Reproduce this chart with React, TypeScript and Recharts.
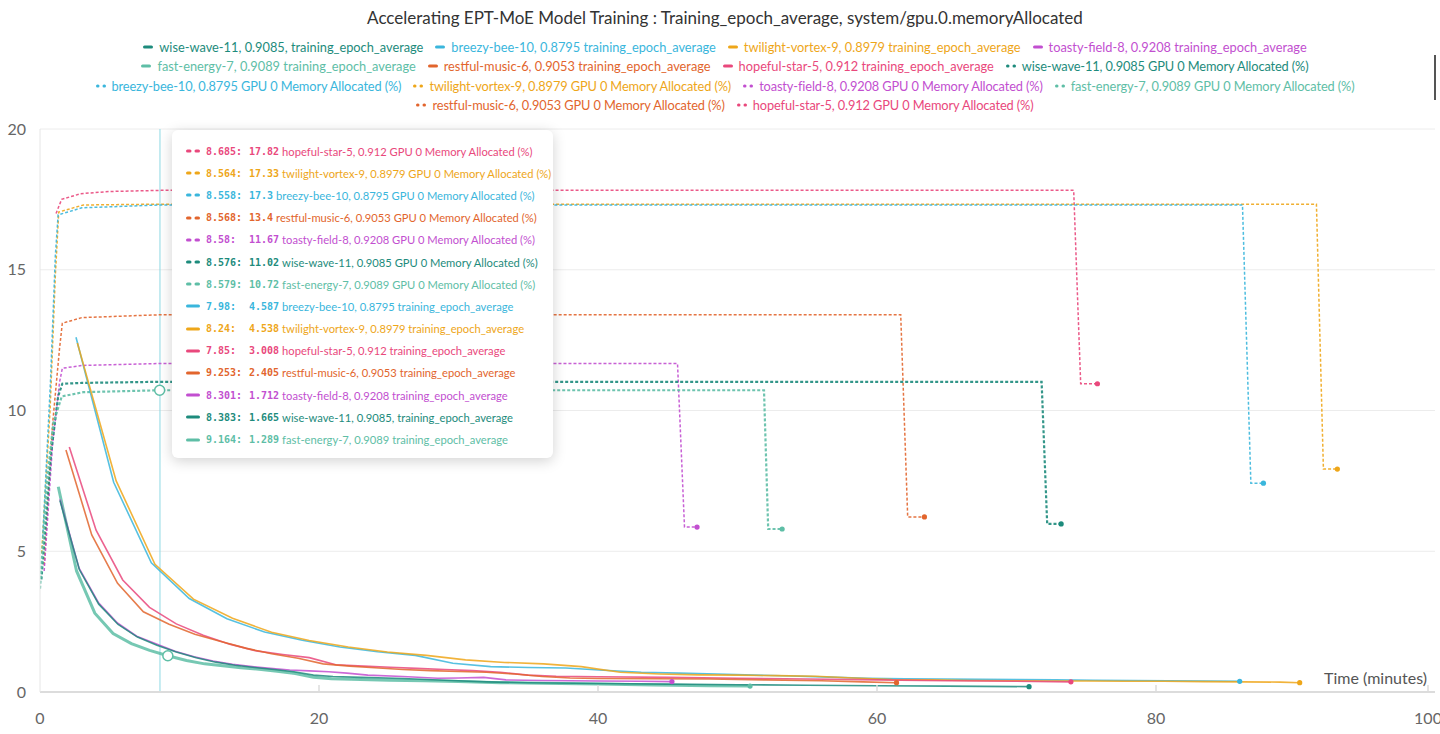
import React from 'react';
import {
  LineChart,
  Line,
  XAxis,
  YAxis,
  CartesianGrid,
  ReferenceLine,
  ReferenceDot,
} from 'recharts';

// [time in minutes, value] pairs
const wiseTrain = [
  [1.43, 6.8], [2.82, 4.35], [4.21, 3.12], [5.6, 2.4], [6.99, 1.95], [8.383, 1.665],
  [9.77, 1.42], [11.2, 1.22], [12.6, 1.06], [14, 0.95], [15.4, 0.87], [16.8, 0.8],
  [18.2, 0.72], [19.6, 0.6], [21, 0.55], [23, 0.52], [26, 0.48], [29, 0.42], [32, 0.36],
  [35, 0.33], [40, 0.3], [45, 0.28], [50, 0.26], [55, 0.24], [60, 0.22], [65, 0.21], [70.9, 0.19],
];
const breezyTrain = [
  [2.58, 12.6], [5.28, 7.45], [7.98, 4.587], [10.7, 3.32], [13.4, 2.6], [16.1, 2.13],
  [18.8, 1.84], [21.5, 1.6], [24.2, 1.43], [26.9, 1.3], [29.6, 1.02], [32.3, 0.9],
  [35, 0.87], [37.7, 0.85], [40.4, 0.77], [43.1, 0.7], [45.8, 0.67], [48.5, 0.64],
  [51.2, 0.6], [53.9, 0.57], [56.6, 0.53], [59.3, 0.49], [62, 0.47], [64.7, 0.46],
  [67.4, 0.45], [70.1, 0.44], [72.8, 0.43], [75.5, 0.42], [78.2, 0.41], [80.9, 0.4],
  [83.6, 0.39], [86.0, 0.38],
];
const twilightTrain = [
  [2.68, 12.4], [5.46, 7.5], [8.24, 4.538], [11.0, 3.3], [13.8, 2.62], [16.6, 2.12],
  [19.3, 1.83], [22.1, 1.6], [24.9, 1.42], [27.7, 1.3], [30.5, 1.14], [33.3, 1.05],
  [36.1, 1.0], [38.8, 0.9], [41.6, 0.7], [44.4, 0.64], [47.2, 0.61], [50, 0.6],
  [52.8, 0.58], [55.6, 0.56], [58.3, 0.5], [61.1, 0.44], [63.9, 0.43], [66.7, 0.41],
  [69.5, 0.4], [72.3, 0.39], [75, 0.39], [77.8, 0.38], [80.6, 0.38], [83.4, 0.37],
  [86.2, 0.36], [88.9, 0.35], [90.3, 0.33],
];
const toastyTrain = [
  [1.43, 6.85], [2.8, 4.4], [4.18, 3.18], [5.55, 2.45], [6.93, 1.98], [8.301, 1.712],
  [9.68, 1.45], [11.05, 1.25], [12.4, 1.1], [13.8, 0.98], [15.2, 0.9], [16.5, 0.84],
  [17.9, 0.78], [19.3, 0.75], [20.7, 0.72], [22, 0.67], [23.5, 0.6], [26, 0.55],
  [28.5, 0.49], [30, 0.5], [31.8, 0.52], [33.4, 0.43], [36, 0.41], [40, 0.39],
  [43, 0.38], [45.3, 0.37],
];
const fastTrain = [
  [1.31, 7.29], [2.62, 4.3], [3.93, 2.8], [5.24, 2.08], [6.55, 1.72], [7.86, 1.48],
  [9.164, 1.289], [10.5, 1.12], [11.8, 1.0], [13.1, 0.93], [14.4, 0.86], [15.7, 0.81],
  [17, 0.74], [18.3, 0.66], [19.6, 0.52], [20.9, 0.47], [22.3, 0.45], [25, 0.42],
  [27.5, 0.4], [30, 0.37], [33, 0.33], [36, 0.31], [40, 0.28], [44, 0.25], [48, 0.22],
  [50.9, 0.21],
];
const restfulTrain = [
  [1.86, 8.6], [3.71, 5.58], [5.56, 3.86], [7.41, 2.85], [9.253, 2.405], [11.1, 2.05],
  [12.9, 1.8], [14.8, 1.55], [16.6, 1.36], [18.5, 1.2], [20.3, 1.0], [22.2, 0.92],
  [24, 0.86], [26, 0.8], [28, 0.76], [30, 0.73], [32, 0.7], [34, 0.64], [36, 0.55],
  [38, 0.5], [40, 0.48], [44, 0.47], [48, 0.46], [52, 0.43], [56, 0.4], [59, 0.36],
  [61.4, 0.33],
];
const hopefulTrain = [
  [2.1, 8.7], [4.02, 5.75], [5.93, 3.98], [7.85, 3.008], [9.77, 2.42], [11.7, 2.02],
  [13.6, 1.7], [15.5, 1.46], [17.4, 1.33], [19.3, 1.22], [21.2, 0.97], [23.2, 0.92],
  [25.1, 0.88], [27, 0.84], [29, 0.8], [31, 0.76], [33, 0.7], [35, 0.6], [37, 0.56],
  [40, 0.54], [45, 0.52], [50, 0.49], [55, 0.46], [60, 0.43], [65, 0.4], [70, 0.38],
  [73.9, 0.36],
];

const hopefulMem = [[1.15, 17.0], [1.55, 17.5], [2.9, 17.7], [5.0, 17.78], [8.685, 17.82], [74.1, 17.82], [74.6, 10.95], [75.8, 10.95]];
const twilightMem = [[0.12, 4.93], [0.72, 10.0], [1.1, 14.8], [1.34, 17.05], [3.1, 17.3], [8.564, 17.33], [91.5, 17.33], [92.0, 7.92], [93.0, 7.92]];
const breezyMem = [[0.2, 5.5], [0.75, 11.0], [1.1, 15.5], [1.3, 16.95], [3.0, 17.2], [8.558, 17.3], [86.2, 17.3], [86.8, 7.42], [87.7, 7.42]];
const restfulMem = [[0.3, 4.5], [0.9, 9.5], [1.4, 12.2], [1.6, 13.1], [3.0, 13.3], [8.568, 13.4], [61.7, 13.4], [62.2, 6.22], [63.4, 6.22]];
const toastyMem = [[0.3, 4.3], [0.9, 8.8], [1.4, 11.0], [1.6, 11.5], [3.0, 11.6], [8.58, 11.67], [45.7, 11.67], [46.2, 5.86], [47.1, 5.86]];
const wiseMem = [[0.1, 4.0], [0.8, 8.5], [1.3, 10.5], [1.6, 10.95], [3.0, 10.98], [8.576, 11.02], [71.8, 11.02], [72.2, 5.97], [73.2, 5.97]];
const fastMem = [[0, 3.67], [0.48, 7.4], [0.96, 9.56], [1.56, 10.5], [3.1, 10.65], [8.579, 10.72], [51.9, 10.72], [52.2, 5.79], [53.2, 5.79]];

const xTicks = [0, 20, 40, 60, 80, 100];
const yTicks = [0, 5, 10, 15, 20];
const hoverTime = 8.6;

const title = 'Accelerating EPT-MoE Model Training : Training_epoch_average, system/gpu.0.memoryAllocated';

const runColors: Record<string, string> = {
  wise: '#1d8b7c',
  breezy: '#3ab6dc',
  twilight: '#eea619',
  toasty: '#c24fd0',
  fast: '#5ebea6',
  restful: '#e2652d',
  hopeful: '#e9487c',
};

type Series = { key: string; run: string; mem: boolean; label: string; data: number[][] };

const series: Series[] = [
  { key: 'hopefulMem', run: 'hopeful', mem: true, label: 'hopeful-star-5, 0.912 GPU 0 Memory Allocated (%)', data: hopefulMem },
  { key: 'twilightMem', run: 'twilight', mem: true, label: 'twilight-vortex-9, 0.8979 GPU 0 Memory Allocated (%)', data: twilightMem },
  { key: 'breezyMem', run: 'breezy', mem: true, label: 'breezy-bee-10, 0.8795 GPU 0 Memory Allocated (%)', data: breezyMem },
  { key: 'restfulMem', run: 'restful', mem: true, label: 'restful-music-6, 0.9053 GPU 0 Memory Allocated (%)', data: restfulMem },
  { key: 'toastyMem', run: 'toasty', mem: true, label: 'toasty-field-8, 0.9208 GPU 0 Memory Allocated (%)', data: toastyMem },
  { key: 'wiseMem', run: 'wise', mem: true, label: 'wise-wave-11, 0.9085 GPU 0 Memory Allocated (%)', data: wiseMem },
  { key: 'fastMem', run: 'fast', mem: true, label: 'fast-energy-7, 0.9089 GPU 0 Memory Allocated (%)', data: fastMem },
  { key: 'fastTrain', run: 'fast', mem: false, label: 'fast-energy-7, 0.9089 training_epoch_average', data: fastTrain },
  { key: 'breezyTrain', run: 'breezy', mem: false, label: 'breezy-bee-10, 0.8795 training_epoch_average', data: breezyTrain },
  { key: 'twilightTrain', run: 'twilight', mem: false, label: 'twilight-vortex-9, 0.8979 training_epoch_average', data: twilightTrain },
  { key: 'hopefulTrain', run: 'hopeful', mem: false, label: 'hopeful-star-5, 0.912 training_epoch_average', data: hopefulTrain },
  { key: 'restfulTrain', run: 'restful', mem: false, label: 'restful-music-6, 0.9053 training_epoch_average', data: restfulTrain },
  { key: 'toastyTrain', run: 'toasty', mem: false, label: 'toasty-field-8, 0.9208 training_epoch_average', data: toastyTrain },
  { key: 'wiseTrain', run: 'wise', mem: false, label: 'wise-wave-11, 0.9085, training_epoch_average', data: wiseTrain },
];

const legendRows = [
  ['wiseTrain', 'breezyTrain', 'twilightTrain', 'toastyTrain'],
  ['fastTrain', 'restfulTrain', 'hopefulTrain', 'wiseMem'],
  ['breezyMem', 'twilightMem', 'toastyMem', 'fastMem'],
  ['restfulMem', 'hopefulMem'],
];

// hover readout: [series, time, value]
const tooltipRows: [string, string, string][] = [
  ['hopefulMem', '8.685', '17.82'],
  ['twilightMem', '8.564', '17.33'],
  ['breezyMem', '8.558', '17.3'],
  ['restfulMem', '8.568', '13.4'],
  ['toastyMem', '8.58', '11.67'],
  ['wiseMem', '8.576', '11.02'],
  ['fastMem', '8.579', '10.72'],
  ['breezyTrain', '7.98', '4.587'],
  ['twilightTrain', '8.24', '4.538'],
  ['hopefulTrain', '7.85', '3.008'],
  ['restfulTrain', '9.253', '2.405'],
  ['toastyTrain', '8.301', '1.712'],
  ['wiseTrain', '8.383', '1.665'],
  ['fastTrain', '9.164', '1.289'],
];

const FONT = 'Lato, "Noto Sans", sans-serif';
const MONO = '"DejaVu Sans Mono", monospace';
const byKey = (k: string) => series.find((s) => s.key === k)!;

const Swatch = ({ color, dashed, w }: { color: string; dashed: boolean; w: number }) => (
  <svg width={w} height={4} style={{ marginRight: 6, flexShrink: 0 }}>
    {dashed ? (
      <>
        <rect x={0} y={0.5} width={w / 2 - 1.5} height={3} rx={1.5} fill={color} />
        <rect x={w / 2 + 1.5} y={0.5} width={w / 2 - 1.5} height={3} rx={1.5} fill={color} />
      </>
    ) : (
      <rect x={0} y={0.5} width={w} height={3} rx={1.5} fill={color} />
    )}
  </svg>
);

const XTick = (props: any) => {
  const { x, y, payload } = props;
  return (
    <g>
      {payload.value > 0 && <line x1={x} x2={x} y1={y - 7} y2={y} stroke="#dcdcdc" strokeWidth={1.5} />}
      <text x={x} y={y + 32} textAnchor="middle" fill="#666" fontSize={16} fontFamily={FONT}>
        {payload.value}
      </text>
    </g>
  );
};

const endDot = (color: string, n: number) => (p: any) =>
  p.index === n - 1 ? (
    <circle key={`d${p.index}`} cx={p.cx} cy={p.cy} r={2.6} fill={color} />
  ) : (
    <g key={`d${p.index}`} />
  );

export default function App() {
  return (
    <div style={{ position: 'absolute', left: 0, top: 0, width: 1440, height: 734, overflow: 'hidden', background: '#fff', fontFamily: FONT }}>
      <div style={{ position: 'absolute', left: 10, width: 1430, top: 7, textAlign: 'center', fontSize: 17, color: '#333', lineHeight: '22px' }}>
        {title}
      </div>
      <div style={{ position: 'absolute', left: 10, width: 1430, top: 37 }}>
        {legendRows.map((row, i) => (
          <div key={i} style={{ display: 'flex', justifyContent: 'center', height: 19.5, alignItems: 'center' }}>
            {row.map((k) => {
              const s = byKey(k);
              const c = runColors[s.run];
              return (
                <div
                  key={k}
                  style={{
                    display: 'flex',
                    alignItems: 'center',
                    margin: '0 6px',
                    fontSize: 12.8,
                    color: c,
                    whiteSpace: 'nowrap',
                    letterSpacing: s.mem ? -0.12 : 0,
                  }}
                >
                  <Swatch color={c} dashed={s.mem} w={10} />
                  {s.label}
                </div>
              );
            })}
          </div>
        ))}
      </div>
      <div style={{ position: 'absolute', left: 1434, top: 55, width: 2, height: 45, background: '#555' }} />

      <LineChart width={1440} height={734} margin={{ top: 129, right: 5, bottom: 0, left: 0 }}>
        <CartesianGrid vertical={false} stroke="#ececec" />
        <XAxis
          type="number"
          dataKey="0"
          domain={[0, 100]}
          ticks={xTicks}
          allowDataOverflow
          axisLine={{ stroke: '#dcdcdc', strokeWidth: 2 }}
          tickLine={false}
          tickSize={0}
          tickMargin={0}
          tick={<XTick />}
          height={42}
        />
        <YAxis
          type="number"
          domain={[0, 20]}
          ticks={yTicks}
          width={40}
          axisLine={{ stroke: '#e6e6e6' }}
          tickLine={false}
          tickMargin={8}
          tick={{ fill: '#666', fontSize: 16, fontFamily: FONT }}
        />
        <ReferenceLine
          y={0}
          stroke="none"
          label={{ value: 'Time (minutes)', position: 'insideBottomRight', offset: 8, fill: '#555', fontSize: 16, fontFamily: FONT }}
        />
        <ReferenceLine x={hoverTime} stroke="#8fd9e4" strokeWidth={1} />
        {series.map((s) => {
          const c = runColors[s.run];
          const heavy = s.run === 'fast' || s.run === 'wise';
          return (
            <Line
              key={s.key}
              data={s.data}
              dataKey="1"
              type="linear"
              stroke={c}
              strokeWidth={s.mem ? (heavy ? 2.2 : 1.5) : s.run === 'fast' ? 3 : 1.6}
              strokeOpacity={s.mem ? 0.9 : 0.85}
              strokeDasharray={s.mem ? '3 2' : undefined}
              dot={endDot(c, s.data.length)}
              activeDot={false}
              isAnimationActive={false}
            />
          );
        })}
        <ReferenceDot x={8.579} y={10.72} r={5} fill="#fff" stroke={runColors.fast} strokeWidth={1.5} />
        <ReferenceDot x={9.164} y={1.289} r={5} fill="#fff" stroke={runColors.fast} strokeWidth={1.5} />
      </LineChart>

      <div
        style={{
          position: 'absolute',
          left: 172,
          top: 130,
          width: 381,
          height: 328,
          background: '#fff',
          borderRadius: 6,
          boxShadow: '0 3px 14px rgba(0,0,0,0.18)',
          boxSizing: 'border-box',
          paddingTop: 10,
        }}
      >
        {tooltipRows.map(([k, t, v]) => {
          const s = byKey(k);
          const c = runColors[s.run];
          return (
            <div key={k} style={{ display: 'flex', alignItems: 'center', height: 22.2, paddingLeft: 14, color: c, whiteSpace: 'nowrap' }}>
              <Swatch color={c} dashed={s.mem} w={14} />
              <span style={{ fontFamily: MONO, fontWeight: 700, fontSize: 10, width: 43, flexShrink: 0 }}>{t}:</span>
              <span style={{ fontFamily: MONO, fontWeight: 700, fontSize: 10, marginRight: 3, flexShrink: 0 }}>{v}</span>
              <span style={{ fontSize: 11.2, flexShrink: 0 }}>{s.label}</span>
            </div>
          );
        })}
      </div>
    </div>
  );
}
